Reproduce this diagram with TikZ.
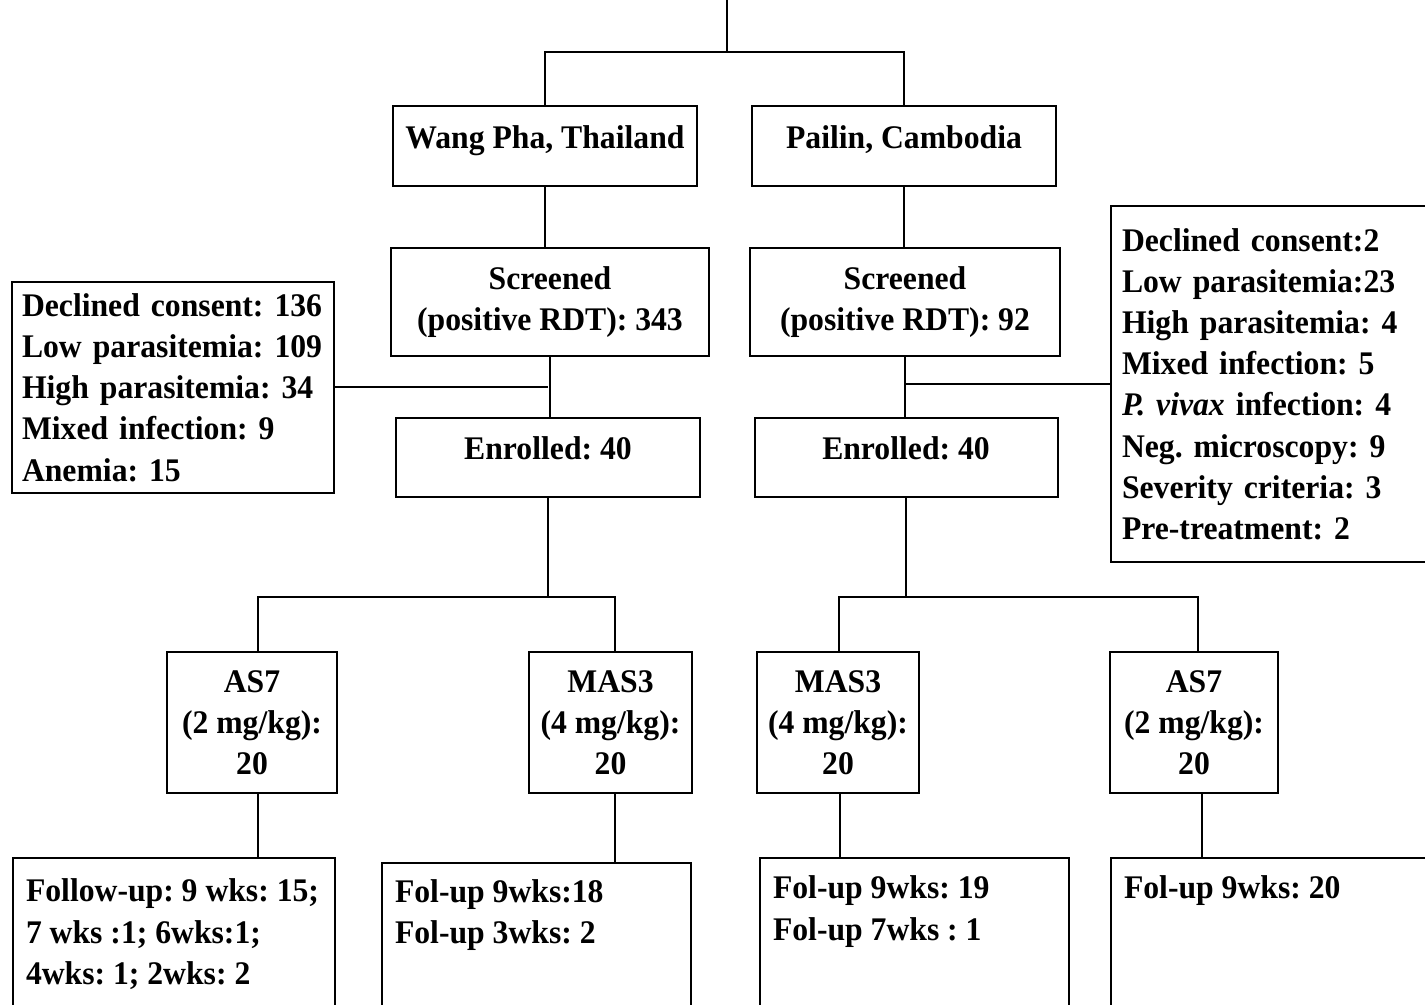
\documentclass[tikz,border=0pt]{standalone}
\usepackage{fontspec}
\setmainfont[FakeStretch=0.96]{Liberation Serif}
\usetikzlibrary{positioning}

\begin{document}
\begin{tikzpicture}[
    x=0.5pt, y=-0.5pt,
    line width=1pt,
    box/.style={draw,line width=1pt,align=center,inner sep=0pt,font=\fontsize{16.5}{20.6}\selectfont\bfseries\frenchspacing},
    raised/.style={text depth=9pt},
    arm/.style={box,minimum height=70.5pt},
    excl/.style={box,align=left,inner xsep=5pt},
    fubox/.style={box,anchor=north west,inner xsep=6.5pt,inner ysep=9pt}
    ]
    \useasboundingbox (0,0) rectangle (1425,1005);
    \clip (0,0) rectangle (1425,1005);

    % sites:
    \node (wang) at (545,146) [box,raised,minimum width=152pt,minimum height=40pt] {Wang Pha, Thailand};
    \node (pailin) at (904,146) [box,raised,minimum width=152pt,minimum height=40pt] {Pailin, Cambodia};

    % screening and enrolment:
    \node (scrL) at (550,302) [box,minimum width=159pt,minimum height=54pt] {Screened\\(positive RDT): 343};
    \node (scrR) at (905,302) [box,minimum width=155pt,minimum height=54pt] {Screened\\(positive RDT): 92};
    \node (enrL) at (548,457.5) [box,raised,minimum width=152pt,minimum height=39.5pt] {Enrolled: 40};
    \node (enrR) at (906,457.5) [box,raised,minimum width=151.5pt,minimum height=39.5pt] {Enrolled: 40};

    % exclusions:
    \node (exclL) at (173,387.5) [excl,text width=151pt,minimum height=105.5pt] {
      Declined consent: 136\\
      Low parasitemia: 109\\
      High parasitemia: 34\\
      Mixed infection: 9\\
      Anemia: 15
    };
    \node (exclR) at (1110,384) [excl,anchor=west,inner xsep=5.5pt,text width=160pt,minimum height=178pt] {
      Declined consent:2\\
      Low parasitemia:23\\
      High parasitemia: 4\\
      Mixed infection: 5\\
      \textit{P. vivax} infection: 4\\
      Neg. microscopy: 9\\
      Severity criteria: 3\\
      Pre-treatment: 2
    };

    % treatment arms:
    \node (as7L) at (252,722.5) [arm,minimum width=85pt] {AS7\\(2 mg/kg):\\20};
    \node (mas3L) at (610.5,722.5) [arm,minimum width=81.5pt] {MAS3\\(4 mg/kg):\\20};
    \node (mas3R) at (838,722.5) [arm,minimum width=81pt] {MAS3\\(4 mg/kg):\\20};
    \node (as7R) at (1194,722.5) [arm,minimum width=84pt] {AS7\\(2 mg/kg):\\20};

    % follow-up:
    \node (fuL) at (12,857) [fubox,inner ysep=10.5pt] {\parbox[t][80pt][t]{148pt}{\raggedright
      Follow-up: 9 wks: 15;\\
      7 wks :1; 6wks:1;\\
      4wks: 1; 2wks: 2}};
    \node (fuML) at (381,862) [fubox,inner ysep=8.2pt] {\parbox[t][80pt][t]{141.5pt}{\raggedright
      Fol-up 9wks:18\\
      Fol-up 3wks: 2}};
    \node (fuMR) at (759,857) [fubox] {\parbox[t][80pt][t]{141.5pt}{\raggedright
      Fol-up 9wks: 19\\
      Fol-up 7wks : 1}};
    \node (fuR) at (1110,857) [fubox] {\parbox[t][80pt][t]{157pt}{\raggedright
      Fol-up 9wks: 20}};

    % connections:
    \coordinate (top) at (727,0);
    \coordinate (split) at (727,52);
    \coordinate (splitL) at (548,597);
    \coordinate (splitR) at (906,597);

    \draw (top) -- (split);
    \draw (wang.north) |- (split) -| (pailin.north);

    \draw (wang.south) -- (wang.south |- scrL.north);
    \draw (pailin.south) -- (pailin.south |- scrR.north);
    \draw (scrL.south) -- (scrL.south |- enrL.north);
    \draw (scrR.south) -- (scrR.south |- enrR.north);

    \draw (exclL.east) -- (exclL.east -| enrL.north);
    \draw (exclR.west) -- (exclR.west -| enrR.north);

    \draw (enrL.south) -- (splitL);
    \draw (enrR.south) -- (splitR);
    \draw ([xshift=3pt]as7L.north) |- (splitL) -| ([xshift=2.25pt]mas3L.north);
    \draw ([xshift=0.5pt]mas3R.north) |- (splitR) -| ([xshift=2pt]as7R.north);

    \draw ([xshift=3pt]as7L.south) -- ([xshift=3pt]as7L.south |- fuL.north);
    \draw ([xshift=2.25pt]mas3L.south) -- ([xshift=2.25pt]mas3L.south |- fuML.north);
    \draw ([xshift=1pt]mas3R.south) -- ([xshift=1pt]mas3R.south |- fuMR.north);
    \draw ([xshift=4pt]as7R.south) -- ([xshift=4pt]as7R.south |- fuR.north);

  \end{tikzpicture}
\end{document}
